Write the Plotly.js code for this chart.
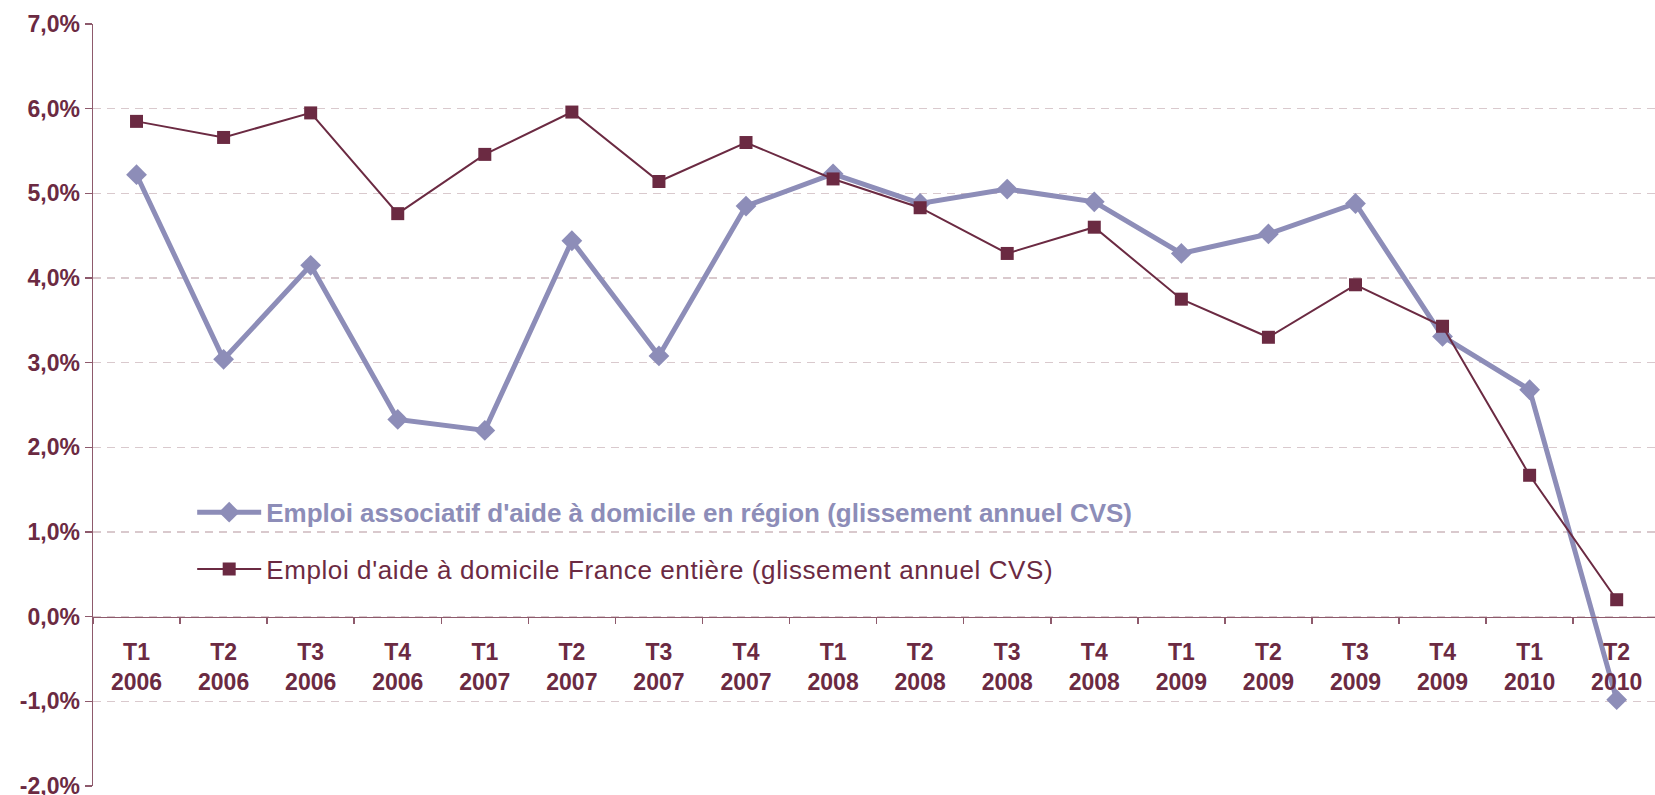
<!DOCTYPE html>
<html>
<head>
<meta charset="utf-8">
<script src="https://cdn.plot.ly/plotly-3.0.1.min.js"></script>
<style>
html,body{margin:0;padding:0;background:#fff;}
#chart{width:1655px;height:795px;}
</style>
</head>
<body>
<div id="chart"></div>
<script>
var quarters = ["T1","T2","T3","T4","T1","T2","T3","T4","T1","T2","T3","T4","T1","T2","T3","T4","T1","T2"];
var years = ["2006","2006","2006","2006","2007","2007","2007","2007","2008","2008","2008","2008","2009","2009","2009","2009","2010","2010"];
var regionValues = [5.22, 3.04, 4.15, 2.33, 2.20, 4.44, 3.08, 4.85, 5.23, 4.88, 5.05, 4.90, 4.29, 4.52, 4.88, 3.31, 2.68, -0.98];
var franceValues = [5.85, 5.66, 5.95, 4.76, 5.46, 5.96, 5.14, 5.60, 5.17, 4.83, 4.29, 4.60, 3.75, 3.30, 3.92, 3.43, 1.67, 0.20];
var yTickVals = [-2, -1, 0, 1, 2, 3, 4, 5, 6, 7];
var yTickText = ["-2,0%", "-1,0%", "0,0%", "1,0%", "2,0%", "3,0%", "4,0%", "5,0%", "6,0%", "7,0%"];
var regionName = "Emploi associatif d'aide à domicile en région (glissement annuel CVS)";
var franceName = "Emploi d'aide à domicile France entière (glissement annuel CVS)";

var categories = quarters.map(function(q, i){ return q + " " + years[i]; });
var tickText = quarters.map(function(q, i){ return q + "<br>" + years[i]; });

var maroon = "#6B2A42";
var lavender = "#8D8DB8";
var axisColor = "#8E5A6C";
var font = "Liberation Sans, Arial, sans-serif";

var traces = [
  {
    x: categories, y: regionValues, type: "scatter", mode: "lines+markers",
    name: "<span style='color:" + lavender + "'><b>" + regionName + "</b></span>",
    legendgroup: "a",
    line: {color: lavender, width: 5},
    marker: {symbol: "diamond", size: 16, color: lavender},
    cliponaxis: false
  },
  {
    x: categories, y: franceValues, type: "scatter", mode: "lines+markers",
    name: "<span style='color:" + maroon + ";letter-spacing:0.6px'>" + franceName + "</span>",
    legendgroup: "b",
    line: {color: maroon, width: 2},
    marker: {symbol: "square", size: 13, color: maroon},
    cliponaxis: false
  }
];

var layout = {
  width: 1655, height: 795,
  margin: {l: 93, r: 0, t: 24, b: 9},
  paper_bgcolor: "#fff", plot_bgcolor: "#fff",
  font: {family: font, color: maroon, size: 23},
  showlegend: true,
  legend: {
    x: 0.0635, y: 0.39, xanchor: "left", yanchor: "top",
    bgcolor: "rgba(0,0,0,0)",
    font: {family: font, size: 26, color: maroon},
    traceorder: "grouped", tracegroupgap: 20, itemwidth: 64
  },
  xaxis: {
    type: "category",
    range: [-0.5, 17.44],
    tickmode: "array", tickvals: categories, ticktext: tickText,
    tickson: "boundaries",
    ticks: "outside", ticklen: 6, tickwidth: 1.5, tickcolor: axisColor,
    ticklabelstandoff: 14,
    showline: true, linecolor: axisColor, linewidth: 1.5,
    showgrid: false, zeroline: false,
    anchor: "free", position: 2/9,
    tickfont: {family: font, size: 23, color: maroon, weight: "bold"},
    fixedrange: true
  },
  yaxis: {
    range: [-2, 7],
    tickmode: "array", tickvals: yTickVals, ticktext: yTickText,
    ticks: "outside", ticklen: 7, tickwidth: 1.5, tickcolor: axisColor,
    ticklabeloverflow: "allow",
    showline: true, linecolor: axisColor, linewidth: 1.5,
    showgrid: true, gridcolor: "#D9C9CD", gridwidth: 1.5, griddash: "8px,6px",
    zeroline: false,
    tickfont: {family: font, size: 23, color: maroon, weight: "bold"},
    fixedrange: true
  }
};

Plotly.newPlot("chart", traces, layout, {displayModeBar: false, staticPlot: true});
</script>
</body>
</html>
